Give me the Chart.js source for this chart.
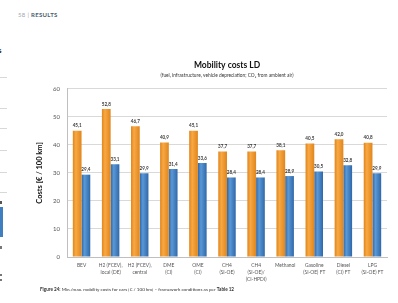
<!DOCTYPE html>
<html>
<head>
<meta charset="utf-8">
<script src="https://cdn.jsdelivr.net/npm/chart.js@4.4.1/dist/chart.umd.min.js"></script>
<style>
  html, body { margin: 0; padding: 0; background: #fff; }
  body { width: 398px; height: 303px; position: relative; overflow: hidden; font-family: Lato, "Open Sans", sans-serif; }
  .abs { position: absolute; }
  #header { left: 18px; top: 11px; font-size: 6px; letter-spacing: 0.3px; color: #a0a8b0; }
  #header b { color: #4d5f70; }
  #caption { left: 40px; top: 286px; font-size: 4.6px; color: #333; white-space: nowrap; }
  #chartBox { left: 0; top: 55px; width: 398px; height: 232px; }
  .frag { background: #d8d8d8; height: 1px; width: 7px; left: 0; }
</style>
</head>
<body>
<div id="header" class="abs">58 | <b>RESULTS</b></div>

<!-- bits of the neighbouring page -->
<div class="abs" style="left:-2px;top:45px;font-size:8px;font-weight:bold;color:#222;">s</div>
<div class="abs frag" style="top:77px"></div>
<div class="abs frag" style="top:108px"></div>
<div class="abs frag" style="top:128px"></div>
<div class="abs frag" style="top:150px"></div>
<div class="abs frag" style="top:172px"></div>
<div class="abs frag" style="top:192px"></div>
<div class="abs" style="left:0;top:207px;width:3px;height:30px;background:#3f7fc0;"></div>
<div class="abs" style="left:0;top:201px;width:2px;height:3px;background:#555;"></div>
<div class="abs" style="left:0;top:246px;width:2px;height:3px;background:#777;"></div>
<div class="abs" style="left:0;top:274px;width:2px;height:2px;background:#777;"></div>
<div class="abs" style="left:0;top:279px;width:2px;height:2px;background:#777;"></div>

<div id="chartBox" class="abs"><canvas id="costChart"></canvas></div>

<div id="caption" class="abs"><b>Figure 24:</b> Min./max. mobility costs for cars [€ / 100 km] – framework conditions as per <b>Table 12</b></div>

<script>
  // categories and values
  const categories = [
    "BEV",
    ["H2 (FCEV),", "local (DE)"],
    ["H2 (FCEV),", "central"],
    ["DME", "(CI)"],
    ["OME", "(CI)"],
    ["CH4", "(SI-OE)"],
    ["CH4", "(SI-OE)/", "(CI-HPDI)"],
    "Methanol",
    ["Gasoline", "(SI-OE) FT"],
    ["Diesel", "(CI) FT"],
    ["LPG", "(SI-OE) FT"]
  ];
  const maxCosts = [45.1, 52.8, 46.7, 40.9, 45.1, 37.7, 37.7, 38.1, 40.5, 42.0, 40.8];
  const minCosts = [29.4, 33.1, 29.9, 31.4, 33.6, 28.4, 28.4, 28.9, 30.5, 32.8, 29.9];
  const yTicks = [0, 10, 20, 30, 40, 50, 60];

  const FONT = "Lato";

  // excel-like shaded bars
  function shaded(edge, mid, solid) {
    return (c) => {
      const el = c.element;
      if (!el || !el.width || isNaN(el.x)) return solid;
      const g = c.chart.ctx.createLinearGradient(el.x - el.width / 2, 0, el.x + el.width / 2, 0);
      g.addColorStop(0, edge);
      g.addColorStop(0.35, mid);
      g.addColorStop(1, edge);
      return g;
    };
  }

  // numbers over the bars, with decimal comma
  const valueLabels = {
    id: "valueLabels",
    afterDatasetsDraw(chart) {
      const ctx = chart.ctx;
      ctx.save();
      ctx.font = "bold 4.6px " + FONT;
      ctx.fillStyle = "#3a3a3a";
      ctx.textAlign = "center";
      ctx.textBaseline = "bottom";
      chart.data.datasets.forEach((ds, i) => {
        chart.getDatasetMeta(i).data.forEach((bar, j) => {
          ctx.fillText(ds.data[j].toFixed(1).replace(".", ","), bar.x, bar.y - 2.5);
        });
      });
      ctx.restore();
    }
  };

  const chart = new Chart(document.getElementById("costChart"), {
    type: "bar",
    data: {
      labels: categories,
      datasets: [
        { label: "max", data: maxCosts, backgroundColor: shaded("#e0851c", "#f8a843", "#f09a30") },
        { label: "min", data: minCosts, backgroundColor: shaded("#2f68aa", "#5a98d6", "#4282c6") }
      ]
    },
    options: {
      responsive: true,
      maintainAspectRatio: false,
      animation: false,
      layout: { padding: { left: 0, right: 11, top: 0, bottom: 0 } },
      datasets: { bar: { categoryPercentage: 0.6, barPercentage: 1.0 } },
      plugins: {
        legend: { display: false },
        tooltip: { enabled: false },
        title: {
          display: true,
          fullSize: false,
          text: "Mobility costs LD",
          color: "#111",
          font: { family: FONT, size: 8.5, weight: "bold", lineHeight: 1.2 },
          padding: { top: 5, bottom: 0 }
        },
        subtitle: {
          display: true,
          fullSize: false,
          text: "(fuel, infrastructure, vehicle depreciation; CO₂ from ambient air)",
          color: "#333",
          font: { family: FONT, size: 4.8, lineHeight: 1.2 },
          padding: { top: 2, bottom: 11 }
        }
      },
      scales: {
        x: {
          grid: { display: false, drawTicks: false },
          border: { display: true, color: "#bfbfbf" },
          ticks: {
            color: "#555",
            font: { family: FONT, size: 4.9, lineHeight: 1.45 },
            padding: 4.5,
            maxRotation: 0,
            autoSkip: false
          },
          afterFit: (s) => { s.height = 30; }
        },
        y: {
          min: 0,
          max: 60,
          afterBuildTicks: (s) => { s.ticks = yTicks.map(v => ({ value: v })); },
          grid: { color: "#d9d9d9", drawTicks: false },
          border: { display: true, color: "#bfbfbf" },
          ticks: { color: "#555", font: { family: FONT, size: 6 }, padding: 7 },
          title: {
            display: true,
            text: "Costs [€ / 100 km]",
            color: "#111",
            font: { family: FONT, size: 7.5, weight: "bold", lineHeight: 1.2 },
            padding: { top: 35, bottom: 0 }
          },
          afterFit: (s) => { s.width = 67; }
        }
      }
    },
    plugins: [valueLabels]
  });

  // second pass so the gradients know where the bars are
  chart.update("none");
</script>
</body>
</html>
